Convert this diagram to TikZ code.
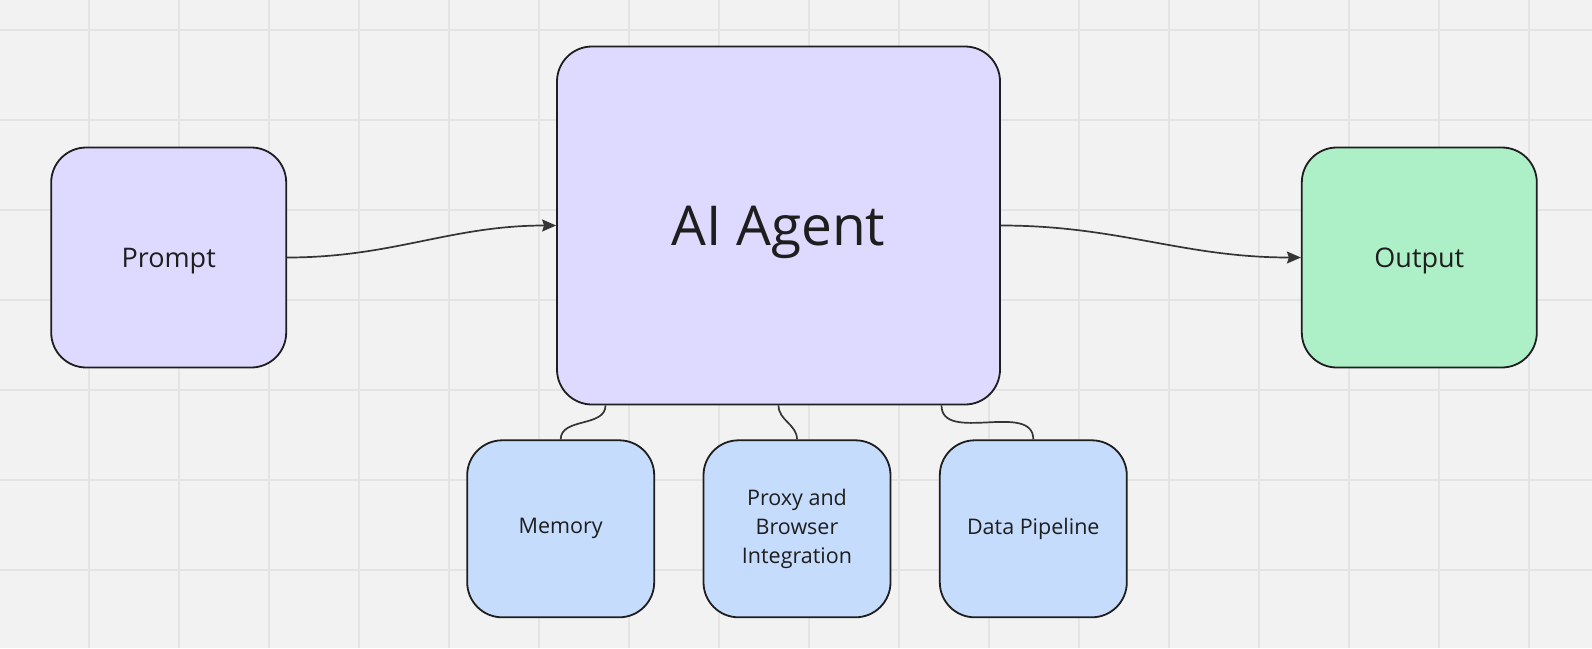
\documentclass[tikz,border=0pt]{standalone}
\usepackage{fontspec}
\setmainfont{Open Sans}
\usepackage{xcolor}
\usepackage{tikz}
\usetikzlibrary{arrows.meta}
\usetikzlibrary{positioning}
\definecolor{boardbg}{HTML}{F2F2F2}
\definecolor{boardgrid}{HTML}{E4E4E4}
\definecolor{agentfill}{HTML}{DEDAFF}
\definecolor{outputfill}{HTML}{ADF0C7}
\definecolor{toolfill}{HTML}{C6DCFD}
\definecolor{ink}{HTML}{1E1E1E}
\tikzset{>={Stealth[length=14pt, width=12pt, inset=2pt]}}
\tikzset{grid-line/.style={line width=1.3pt, draw=boardgrid}}
\tikzset{flow-line/.style={line width=1.7pt, draw=ink!90}}
\tikzset{base-box/.style={draw=ink, line width=1.8pt, rounded corners=35pt, inner sep=0, text=ink, align=center}}
\tikzset{agent-box/.style={base-box, fill=agentfill, minimum width=443pt, minimum height=358pt, text depth=-5pt, font=\fontsize{55}{60}\selectfont}}
\tikzset{end-box/.style={base-box, minimum width=235pt, minimum height=220pt, text depth=0pt, font=\fontsize{27}{32}\selectfont}}
\tikzset{tool-box/.style={base-box, fill=toolfill, minimum width=187pt, minimum height=177pt, font=\fontsize{21.5}{29}\selectfont}}

\begin{document}
\begin{tikzpicture}[x=1pt, y=-1pt]
            \fill[boardbg] (0,0) rectangle (1592,648);
            \useasboundingbox (0,0) rectangle (1592,648);
            \foreach \x in {89,179,...,1529} \draw[grid-line] (\x,0) -- (\x,648);
            \foreach \y in {30,120,...,570} \draw[grid-line] (0,\y) -- (1592,\y);

            \node[agent-box] (agent) at (778.5,225.5) {AI Agent};

            \node[end-box, fill=agentfill, left=269pt of agent.west, yshift=-32pt] (prompt) {Prompt};
            \node[end-box, fill=outputfill, right=300pt of agent.east, yshift=-32pt] (output) {Output};

            \node[tool-box, below=34pt of agent.south, xshift=18.5pt] (proxy) {Proxy and\\Browser\\Integration};
            \node[tool-box, left=47.5pt of proxy] (memory) {Memory};
            \node[tool-box, right=47.5pt of proxy] (pipeline) {Data Pipeline};

            \draw[->, flow-line] (prompt.east) to[out=0, in=180] (agent.west);
            \draw[->, flow-line] (agent.east) to[out=0, in=180] (output.west);

            \draw[flow-line] ([xshift=-173pt]agent.south) to[out=-90, in=90] (memory.north);
            \draw[flow-line] ([xshift=0pt]agent.south) to[out=-90, in=90] (proxy.north);
            \draw[flow-line] ([xshift=163pt]agent.south) to[out=-90, in=90] (pipeline.north);

        \end{tikzpicture}
\end{document}
